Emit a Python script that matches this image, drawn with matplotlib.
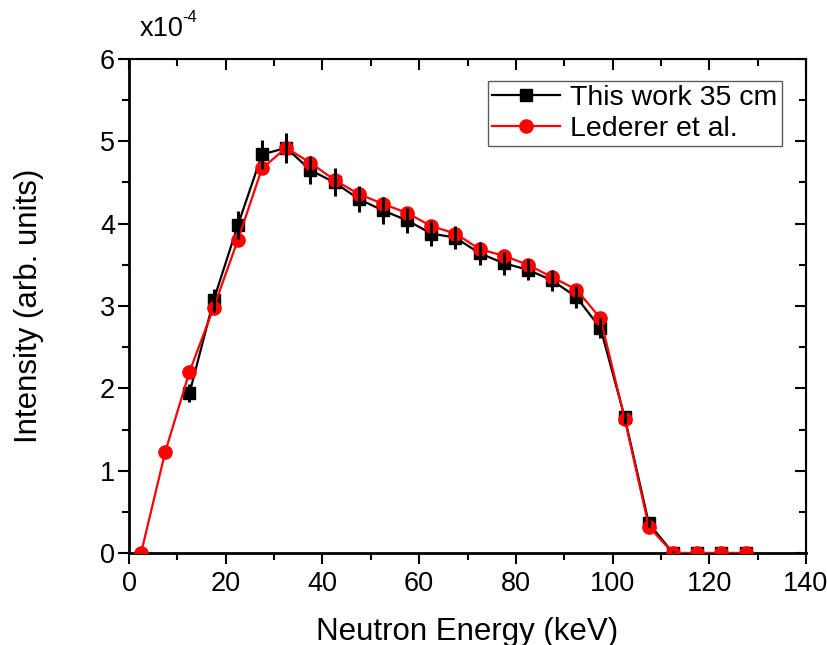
import numpy as np
import matplotlib.pyplot as plt
from matplotlib.ticker import MultipleLocator

plt.rcParams['font.family'] = ['Liberation Sans', 'DejaVu Sans']

# This work 35 cm (intensity in units of 1e-4)
energy_work = [12.5, 17.5, 22.5, 27.5, 32.5, 37.5, 42.5, 47.5, 52.5, 57.5, 62.5,
               67.5, 72.5, 77.5, 82.5, 87.5, 92.5, 97.5, 102.5, 107.5, 112.5,
               117.5, 122.5, 127.5]
intensity_work = [1.94, 3.07, 3.98, 4.84, 4.92, 4.65, 4.50, 4.30, 4.16, 4.04, 3.88,
                  3.83, 3.64, 3.52, 3.44, 3.31, 3.11, 2.73, 1.65, 0.36, 0.0,
                  0.0, 0.0, 0.0]
error_work = [0.11, 0.14, 0.17, 0.18, 0.18, 0.17, 0.17, 0.16, 0.16, 0.15, 0.15,
              0.14, 0.14, 0.14, 0.13, 0.13, 0.13, 0.12, 0.08, 0.04, 0.02,
              0.0, 0.0, 0.0]

# Lederer et al.
energy_led = [2.5, 7.5, 12.5, 17.5, 22.5, 27.5, 32.5, 37.5, 42.5, 47.5, 52.5,
              57.5, 62.5, 67.5, 72.5, 77.5, 82.5, 87.5, 92.5, 97.5, 102.5,
              107.5, 112.5, 117.5, 122.5, 127.5]
intensity_led = [0.0, 1.23, 2.20, 2.98, 3.80, 4.67, 4.92, 4.74, 4.53, 4.36, 4.24,
                 4.13, 3.97, 3.88, 3.69, 3.61, 3.50, 3.35, 3.20, 2.85, 1.63,
                 0.32, 0.0, 0.0, 0.0, 0.0]

fig = plt.figure(figsize=(8.27, 6.45), dpi=100)
ax = fig.add_axes([0.156, 0.1426, 0.8186, 0.766])

ax.plot(energy_work, intensity_work, color='black', lw=1.6, marker='s', ms=8,
        label='This work 35 cm', zorder=2)
ax.plot(energy_led, intensity_led, color='red', lw=1.6, marker='o', ms=9.5,
        label='Lederer et al.', zorder=3)
ax.errorbar(energy_work, intensity_work, yerr=error_work, fmt='none',
            ecolor='black', elinewidth=2.2, capsize=0, zorder=4)

ax.set_xlim(0, 140)
ax.set_ylim(0, 6)
ax.xaxis.set_major_locator(MultipleLocator(20))
ax.xaxis.set_minor_locator(MultipleLocator(10))
ax.yaxis.set_major_locator(MultipleLocator(1))
ax.yaxis.set_minor_locator(MultipleLocator(0.5))

ax.tick_params(which='both', direction='out', labelsize=19.5, width=1.5)
ax.tick_params(which='major', length=8)
ax.tick_params(which='minor', length=5)
ax.tick_params(axis='x', pad=5)
ax.tick_params(axis='y', pad=2)

# inward ticks on top and right
axt = ax.secondary_xaxis('top')
axt.xaxis.set_major_locator(MultipleLocator(20))
axt.xaxis.set_minor_locator(MultipleLocator(10))
axt.tick_params(which='both', direction='in', labeltop=False, width=1.5)
axt.tick_params(which='major', length=8)
axt.tick_params(which='minor', length=5)
axr = ax.secondary_yaxis('right')
axr.yaxis.set_major_locator(MultipleLocator(1))
axr.yaxis.set_minor_locator(MultipleLocator(0.5))
axr.tick_params(which='both', direction='in', labelright=False, width=1.5)
axr.tick_params(which='major', length=8)
axr.tick_params(which='minor', length=5)

for s in ax.spines.values():
    s.set_linewidth(1.5)
ax.spines['left'].set_linewidth(2)
ax.spines['bottom'].set_linewidth(2)

ax.set_xlabel('Neutron Energy (keV)', fontsize=22.5, labelpad=14)
ax.set_ylabel('Intensity (arb. units)', fontsize=22.5, labelpad=40)

# axis multiplier, written as in the original ("x10" with raised "-4")
fig.text(140 / 827, 1 - 36 / 645, 'x10', fontsize=19.5, ha='left', va='baseline')
fig.text(182 / 827, 1 - 22 / 645, '-4', fontsize=12, ha='left', va='baseline')

leg = ax.legend(loc='upper right', bbox_to_anchor=(0.9645, 0.955),
                borderaxespad=0, fontsize=20.5, frameon=True, fancybox=False,
                edgecolor='#333333', handlelength=2.4, handletextpad=0.35,
                borderpad=0.15, labelspacing=0.15)
leg.get_frame().set_linewidth(1.0)

fig.savefig('out.png', dpi=100)
